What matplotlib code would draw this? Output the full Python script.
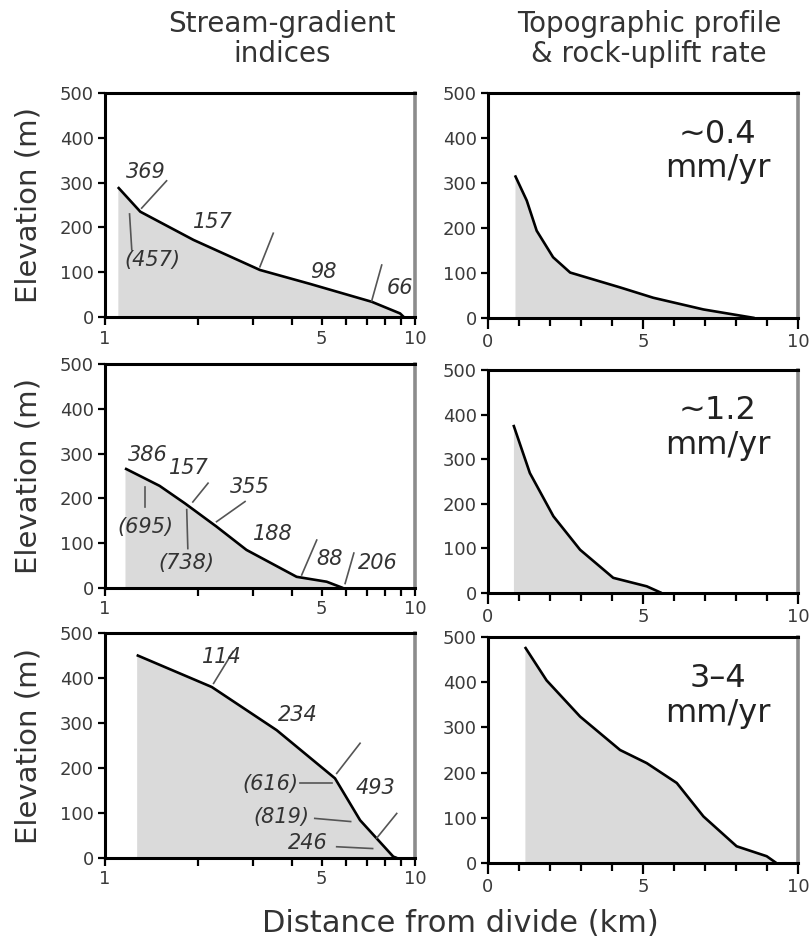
import matplotlib
matplotlib.use("Agg")
import matplotlib.pyplot as plt

plt.rcParams['font.family'] = ['DejaVu Sans']

# ---- data ----
# left column: stream profiles on log distance axis (km), elevation (m)
sg_top_x = [1.10, 1.30, 1.93, 3.16, 4.58, 7.25, 8.95, 9.20]
sg_top_y = [290, 235, 172, 105, 74, 34, 8, 0]
sg_mid_x = [1.16, 1.50, 1.81, 2.29, 2.86, 4.15, 5.19, 5.86]
sg_mid_y = [267, 228, 189, 137, 85, 25, 14, 0]
sg_bot_x = [1.265, 2.21, 3.58, 5.52, 6.65, 8.51, 8.75]
sg_bot_y = [451, 380, 284, 177, 84, 3, 0]

# right column: topographic profiles on linear distance axis (km)
tp_top_x = [0.87, 1.25, 1.57, 2.10, 2.65, 4.26, 5.33, 6.95, 8.60]
tp_top_y = [317, 261, 194, 135, 101, 68, 45, 19, 0]
tp_mid_x = [0.82, 1.35, 2.11, 2.97, 4.04, 5.12, 5.60]
tp_mid_y = [377, 269, 172, 97, 34, 15, 0]
tp_bot_x = [1.19, 1.89, 2.97, 4.26, 5.12, 6.09, 6.95, 8.02, 8.99, 9.30]
tp_bot_y = [478, 404, 324, 250, 221, 177, 103, 37, 15, 0]

uplift_labels = ["~0.4\nmm/yr", "~1.2\nmm/yr", "3\u20134\nmm/yr"]

# stream-gradient index labels for each left panel
sl_top = ["369", "(457)", "157", "98", "66"]
sl_mid = ["386", "157", "355", "(695)", "(738)", "188", "88", "206"]
sl_bot = ["114", "234", "(616)", "493", "(819)", "246"]

y_ticks = [0, 100, 200, 300, 400, 500]

# ---- layout: label positions and leader / divider segments (data coords) ----
pos_top = [(1.35, 324), (1.42, 127), (2.22, 213), (5.05, 101), (8.95, 65)]
seg_top = [((1.58, 304), (1.313, 243)), ((1.20, 230), (1.22, 150)),
           ((3.16, 112), (3.49, 187)), ((7.25, 36), (7.81, 116))]
pos_mid = [(1.37, 297), (1.87, 268), (2.94, 226), (1.35, 137),
           (1.83, 56), (3.48, 120), (5.32, 65), (7.6, 56)]
seg_mid = [((2.83, 193), (2.29, 148)), ((1.346, 226), (1.346, 180)),
           ((1.835, 175), (1.85, 88)), ((1.92, 192), (2.15, 234)),
           ((4.31, 29), (4.82, 107)), ((5.95, 10), (6.35, 78))]
pos_bot = [(2.38, 447), (4.19, 318), (3.41, 164), (7.46, 156), (3.72, 91), (4.52, 33)]
seg_bot = [((2.24, 388), (2.59, 459)), ((5.59, 188), (6.65, 255)),
           ((4.25, 166), (5.40, 166)), ((4.75, 88), (6.20, 81)),
           ((5.59, 25), (7.30, 21)), ((7.52, 44), (8.73, 99))]

W, H = 811, 939
fig = plt.figure(figsize=(W / 100, H / 100), dpi=100)


def px_axes(left, top, right, bottom):
    return fig.add_axes([left / W, 1 - bottom / H, (right - left) / W, (bottom - top) / H])


def style_axes(ax):
    for s in ['left', 'top', 'bottom']:
        ax.spines[s].set_linewidth(2.2)
        ax.spines[s].set_color('black')
    ax.spines['right'].set_linewidth(2.6)
    ax.spines['right'].set_color('#8c8c8c')
    ax.set_ylim(0, 500)
    ax.set_yticks(y_ticks)
    ax.tick_params(axis='y', direction='out', length=5, width=1.6, pad=3,
                   labelsize=13, labelcolor='#3a3a3a')
    ax.tick_params(axis='x', which='both', direction='out', length=6, width=1.6,
                   pad=3, labelsize=13, labelcolor='#3a3a3a')
    ax.set_facecolor('white')


def profile(ax, x, y):
    ax.fill_between(x, y, 0, color='#dadada', lw=0)
    ax.plot(x, y, color='black', lw=1.9, solid_capstyle='butt')


left_boxes = [(105, 93, 415, 317), (105, 364, 415, 588), (105, 633, 415, 858)]
right_boxes = [(488, 93, 798, 318), (488, 370, 798, 593), (488, 637, 798, 863)]

sg_data = [(sg_top_x, sg_top_y, sl_top, pos_top, seg_top),
           (sg_mid_x, sg_mid_y, sl_mid, pos_mid, seg_mid),
           (sg_bot_x, sg_bot_y, sl_bot, pos_bot, seg_bot)]
tp_data = [(tp_top_x, tp_top_y), (tp_mid_x, tp_mid_y), (tp_bot_x, tp_bot_y)]

for box, (x, y, labels, pos, segs) in zip(left_boxes, sg_data):
    ax = px_axes(*box)
    ax.set_xscale('log')
    ax.set_xlim(1, 10)
    profile(ax, x, y)
    ax.set_xticks([1, 5, 10], labels=['1', '5', '10'])
    ax.set_xticks([2, 3, 4, 6, 7, 8, 9], labels=[''] * 7, minor=True)
    style_axes(ax)
    for (x0, y0), (x1, y1) in segs:
        ax.plot([x0, x1], [y0, y1], color='#555555', lw=1.2)
    for txt, (tx, ty) in zip(labels, pos):
        ax.text(tx, ty, txt, fontsize=15, style='italic', color='#333333',
                ha='center', va='center')

for box, (x, y), lab in zip(right_boxes, tp_data, uplift_labels):
    ax = px_axes(*box)
    ax.set_xlim(0, 10)
    profile(ax, x, y)
    ax.set_xticks([0, 5, 10], labels=['0', '5', '10'])
    ax.set_xticks(range(1, 10), labels=[''] * 9, minor=True)
    style_axes(ax)
    ax.tick_params(axis='x', which='major', length=8)
    ax.text(0.74, 0.74, lab, transform=ax.transAxes, fontsize=23,
            ha='center', va='center', linespacing=1.15, color='#222222')

# column titles
fig.text(282 / W, 1 - 39 / H, "Stream-gradient\nindices", fontsize=20,
         ha='center', va='center', linespacing=1.1, color='#333333')
fig.text(649 / W, 1 - 39 / H, "Topographic profile\n& rock-uplift rate", fontsize=20,
         ha='center', va='center', linespacing=1.1, color='#333333')

# y labels per row
for top, bottom in [(93, 317), (364, 588), (633, 858)]:
    fig.text(29 / W, 1 - (top + bottom) / 2 / H, "Elevation (m)", rotation=90,
             fontsize=21, ha='center', va='center', color='#333333')

fig.text(460 / W, 1 - 932 / H, "Distance from divide (km)", fontsize=22,
         ha='center', va='baseline', color='#333333')

fig.savefig("out.png", dpi=100)
